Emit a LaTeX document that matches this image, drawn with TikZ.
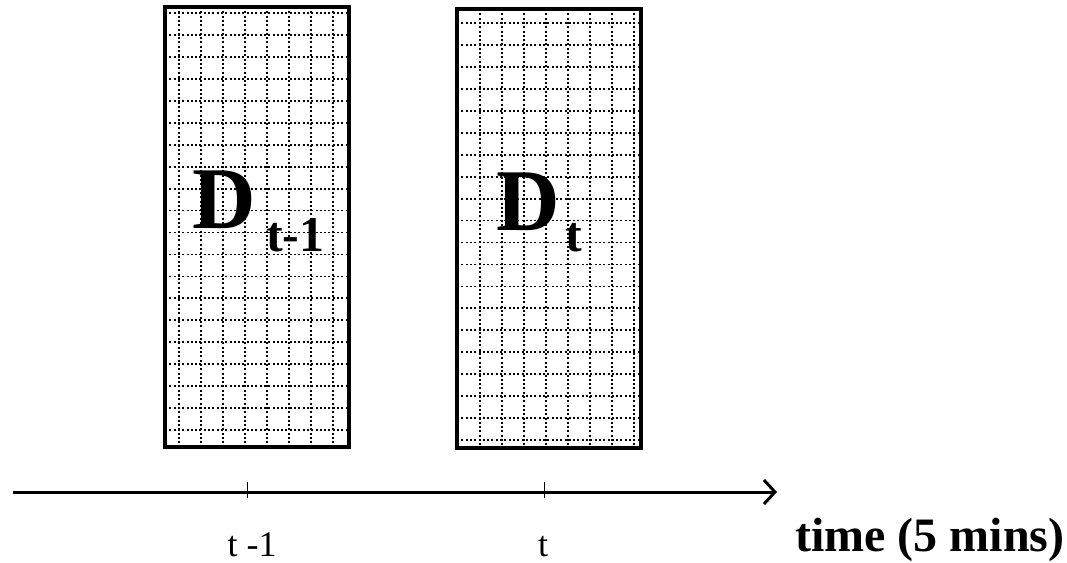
\documentclass[tikz,border=0pt]{standalone}
\usepackage{fontspec}
\setmainfont{Liberation Serif}
\usetikzlibrary{arrows.meta}
\begin{document}
\begin{tikzpicture}[x=1pt,y=-1pt,
  gridline/.style={line width=1.8pt, dash pattern=on 2pt off 2.3pt, black},
  frame/.style={draw, line width=4.5pt, inner sep=0pt, outer sep=0pt},
  axisline/.style={line width=3pt, -{Straight Barb[length=11pt,width=24pt,line width=3pt]}},
  tickmark/.style={line width=1pt},
  ticklabel/.style={font=\fontsize{36}{36}\selectfont, inner sep=0pt, text depth=0pt, anchor=base},
  bigD/.style={font=\fontsize{88}{88}\selectfont\bfseries, inner sep=0pt, anchor=base west},
  subD/.style={font=\fontsize{50}{50}\selectfont\bfseries, inner sep=0pt, anchor=base west},
  axistitle/.style={font=\fontsize{48}{48}\selectfont\bfseries, inner sep=0pt, text depth=0pt, anchor=base west},
]
\useasboundingbox (0,0) rectangle (1067,562);
% grid of box 1
\begin{scope}
  \clip (165,7) rectangle (349,447);
  \foreach \k in {0,...,19} \draw[gridline] (165,{13+21.95*\k}) -- (349,{13+21.95*\k});
  \foreach \k in {0,...,7} \draw[gridline] ({179+22*\k},7) -- ({179+22*\k},447);
\end{scope}
% grid of box 2
\begin{scope}
  \clip (457,9) rectangle (641,448);
  \foreach \k in {0,...,19} \draw[gridline] (457,{23+21.95*\k}) -- (641,{23+21.95*\k});
  \foreach \k in {0,...,7} \draw[gridline] ({480+22*\k},9) -- ({480+22*\k},448);
\end{scope}
\node[frame, minimum width=184pt, minimum height=440pt, anchor=north west] (box1) at (165,7) {};
\node[frame, minimum width=184pt, minimum height=439pt, anchor=north west] (box2) at (457,9) {};
% labels inside boxes
\node[bigD] (D1) at (192,228) {D};
\node[subD] (s1) at (266,251) {t-1};
\node[bigD] (D2) at (496,230) {D};
\node[subD] (s2) at (565,251) {t};
% time axis
\coordinate (axstart) at (13,492);
\coordinate (axend) at (777,492);
\draw[axisline] (axstart) -- (axend);
\coordinate (tk1a) at (247,482); \coordinate (tk1b) at (247,498);
\coordinate (tk2a) at (544,482); \coordinate (tk2b) at (544,498);
\draw[tickmark] (tk1a) -- (tk1b);
\draw[tickmark] (tk2a) -- (tk2b);
\node[ticklabel] (l1) at (252,556) {t -1};
\node[ticklabel] (l2) at (543,556) {t};
\node[axistitle] (title) at (795,551) {time (5 mins)};
\end{tikzpicture}
\end{document}
